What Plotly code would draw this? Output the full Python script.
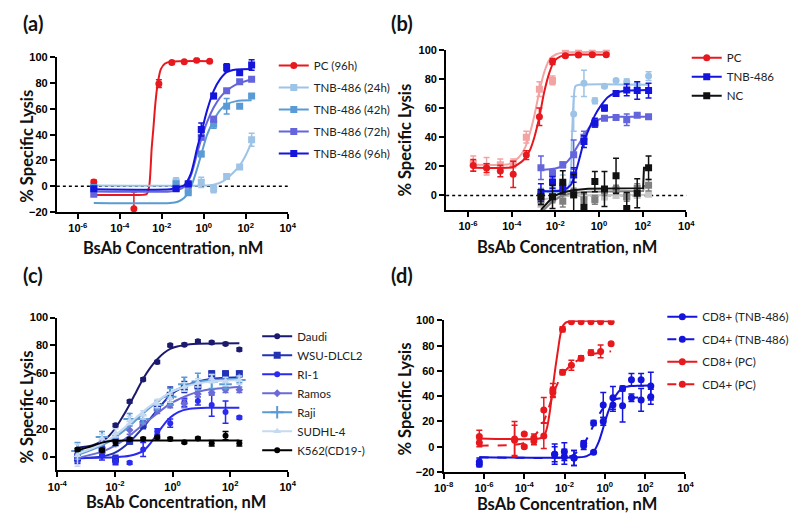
import plotly.graph_objects as go

# ---------------- panel (a) ----------------
A_PC_LOGC = [-5.24, -3.33, -2.14, -1.52, -0.93, -0.34, 0.28]
A_PC = [3.3, -17.5, 79.5, 96.0, 96.5, 97.7, 97.0]
A_PC_ERR = [1.5, 13.0, 3.0, 1.0, 0.5, 0.5, 0.5]
A_PC_FIT_LOGC = [-5.24, -3.2, -2.9, -2.72, -2.6, -2.48, -2.40, -2.33, -2.25, -2.17, -2.05, -1.86, -1.6, 0.28]
A_PC_FIT = [-6.8, -6.8, -6.7, -6.0, 0.0, 30.0, 45.0, 60.0, 73.0, 82.0, 90.6, 95.0, 96.5, 97.0]

A_TNB_LOGC = [-5.24, -1.32, -0.74, -0.12, 0.47, 1.09, 1.71, 2.28]
A_24H = [-1.0, 3.5, -3.0, 3.0, -2.0, 7.5, 15.0, 36.0]
A_24H_ERR = [1, 3, 2, 4, 3, 2, 1, 5]
A_42H = [-1.0, 2.0, -5.0, 25.0, 48.0, 62.0, 62.0, 70.0]
A_42H_ERR = [1, 1, 1.5, 2, 3, 6, 1.5, 1]
A_72H = [-6.3, -1.5, 1.0, 38.0, 52.0, 74.0, 81.0, 83.0]
A_72H_ERR = [1, 1, 1, 2, 2, 1, 1, 1]
A_96H = [-2.0, -2.0, 2.0, 44.0, 70.0, 92.0, 88.0, 94.0]
A_96H_ERR = [1, 1, 1, 5, 2, 3, 2, 4]

A_24H_FIT_LOGC = [-5.24, 0.0, 0.47, 0.93, 1.4, 1.71, 2.0, 2.28]
A_24H_FIT = [0.5, 0.5, 1.2, 4.0, 10.5, 16.0, 24.0, 34.0]
A_TNB_FIT_LOGC = [-5.24, -1.6, -1.24, -0.93, -0.62, -0.31, -0.08, 0.16, 0.47, 0.78, 1.09, 1.55, 2.28]
A_42H_FIT = [-13.0, -13.0, -12.0, -9.0, -1.0, 14.0, 27.0, 40.0, 51.0, 59.0, 63.5, 66.0, 66.6]
A_72H_FIT = [-4.0, -4.0, -3.0, -0.5, 8.0, 26.0, 38.7, 50.0, 61.0, 69.0, 74.0, 79.0, 83.0]
A_96H_FIT = [-2.3, -2.3, -1.0, 0.8, 9.6, 30.0, 44.0, 59.0, 74.0, 83.0, 88.5, 90.6, 91.0]

# ---------------- panel (b) ----------------
B_PC_LOGC = [-5.76, -5.15, -4.52, -3.93, -3.33, -2.73, -2.13, -1.54, -0.94, -0.31, 0.33]
B_PC = [20.6, 18.8, 16.8, 14.5, 27.7, 54.0, 92.0, 96.0, 96.5, 96.6, 96.6]
B_PC_ERR = [4, 3, 4, 9, 3, 6, 2, 1, 1, 1, 1]
B_PC2 = [22.0, 20.0, 21.0, 22.0, 40.0, 73.0, 79.0, 98.0, 98.5, 98.5, 98.5]
B_PC2_ERR = [5, 6, 4, 3, 4, 5, 3, 1, 1, 1, 1]
B_PC_FIT_LOGC = [-5.76, -4.2, -3.93, -3.48, -3.18, -2.96, -2.73, -2.51, -2.28, -2.06, -1.76, -1.24, 0.33]
B_PC_FIT = [19.0, 19.0, 19.5, 24.0, 30.6, 40.0, 54.0, 71.0, 84.0, 92.0, 95.5, 96.6, 96.6]
B_PC2_FIT_LOGC = [-5.76, -4.4, -4.13, -3.68, -3.38, -3.16, -2.93, -2.71, -2.48, -2.26, -1.96, -1.44, 0.33]
B_PC2_FIT = [21.0, 21.0, 21.5, 26.0, 33.0, 43.0, 57.0, 73.0, 86.0, 93.5, 97.0, 98.3, 98.5]

B_TNB_LOGC = [-2.66, -2.13, -1.66, -1.16, -0.69, -0.19, 0.25, 0.78, 1.27, 1.75, 2.27]
B_TNB = [2.0, 9.0, 5.0, 14.0, 37.0, 50.0, 60.0, 70.0, 72.5, 72.0, 72.0]
B_TNB_ERR = [6, 4, 3, 5, 4, 3, 2, 1, 4, 6, 5]
B_TNB_LIGHT = [2.0, 5.0, 8.0, 56.0, 77.0, 65.0, 75.0, 79.0, 78.0, 76.0, 82.0]
B_TNB_LIGHT_ERR = [3, 4, 6, 12, 9, 2, 1, 1, 2, 2, 3]
B_TNB_MID = [19.0, 15.0, 21.0, 28.0, 40.0, 49.0, 53.0, 53.5, 52.0, 55.0, 54.0]
B_TNB_MID_ERR = [8, 3, 2, 10, 4, 2, 1, 1, 4, 1, 1]
B_TNB_FIT_LOGC = [-2.66, -1.66, -1.3, -1.05, -0.85, -0.69, -0.45, -0.19, 0.1, 0.4, 0.78, 1.27, 2.27]
B_TNB_FIT = [3.0, 3.5, 7.0, 17.0, 28.0, 37.0, 46.0, 55.0, 62.0, 67.5, 70.5, 72.0, 72.5]
B_TNB_LIGHT_FIT_LOGC = [-2.66, -1.5, -1.32, -1.24, -1.16, -1.08, -0.9, 2.27]
B_TNB_LIGHT_FIT = [2.5, 3.0, 10.0, 40.0, 66.0, 75.0, 76.0, 76.0]
B_TNB_MID_FIT_LOGC = [-2.66, -2.0, -1.66, -1.3, -1.0, -0.69, -0.4, -0.1, 0.25, 0.78, 2.27]
B_TNB_MID_FIT = [17.5, 18.5, 20.5, 26.0, 33.5, 41.0, 47.5, 51.5, 53.3, 54.0, 54.0]

B_NC = [-1.0, -1.0, 9.0, 0.4, -8.0, 9.5, 4.4, 13.5, -9.0, 1.5, 19.0]
B_NC_ERR = [5, 8, 8, 14, 10, 7, 12, 12, 11, 10, 8]
B_NC_GRAY = [-3.0, -2.0, -4.0, 2.0, -3.0, -3.0, 3.0, 4.0, -1.0, 5.0, 7.0]
B_NC_GRAY_ERR = [4, 3, 4, 3, 4, 3, 3, 3, 3, 3, 4]
B_NC_LIGHT = [-6.0, -2.0, 1.0, 0.0, -1.0, -2.0, -1.0, 0.0, -1.0, 0.0, 1.0]
B_NC_LIGHT_ERR = [2, 2, 2, 2, 2, 2, 2, 2, 2, 2, 2]
B_NC_FIT_LOGC = [-2.66, -2.3, -2.0, -1.66, -1.2, -0.5, 2.02, 2.06, 2.27]
B_NC_FIT = [-10.0, -4.0, 0.0, 2.0, 3.5, 4.5, 5.0, 19.0, 19.0]
B_NC_GRAY_FIT_LOGC = [-2.66, -2.2, -1.8, -1.3, -0.5, 2.02, 2.06, 2.27]
B_NC_GRAY_FIT = [-12.0, -5.0, -1.0, 1.5, 2.5, 3.0, 6.5, 6.5]
B_NC_LIGHT_FIT_LOGC = [-2.66, -1.5, 2.27]
B_NC_LIGHT_FIT = [-3.0, 0.0, 0.5]

# ---------------- panel (c) ----------------
C_LOGC = [-3.30, -2.45, -1.98, -1.49, -1.02, -0.53, -0.08, 0.41, 0.88, 1.36, 1.84, 2.32]
C_DAUDI = [1.5, 5.0, 22.5, 39.5, 55.5, 68.0, 80.0, 80.5, 83.0, 82.0, 81.0, 77.0]
C_DAUDI_ERR = [2, 2, 1, 1, 1, 1, 1, 1, 1, 1, 1, 1]
C_WSU = [-1.0, 4.5, -2.0, 11.0, 23.0, 36.0, 44.0, 50.0, 51.0, 59.5, 59.5, 59.5]
C_WSU_ERR = [3, 3, 3, 2, 3, 2, 6, 4, 2, 2, 2, 2]
C_RI1 = [-2.0, 0.5, -4.0, -4.5, 5.0, 18.0, 24.0, 39.0, 40.0, 37.0, 32.0, 28.0]
C_RI1_ERR = [3, 3, 2, 1, 5, 2, 3, 3, 3, 8, 8, 1]
C_RAMOS = [0.0, 10.0, 13.0, 19.0, 25.0, 33.0, 37.0, 38.0, 45.0, 46.0, 48.0, 48.0]
C_RAMOS_ERR = [2, 2, 2, 3, 2, 2, 2, 3, 2, 2, 2, 2]
C_RAJI = [4.0, 14.0, 11.0, 27.0, 27.0, 37.0, 43.0, 52.0, 54.0, 54.0, 52.0, 55.0]
C_RAJI_ERR = [6, 4, 3, 4, 3, 3, 6, 5, 6, 5, 3, 2]
C_SUDHL = [1.0, 13.0, 17.0, 26.0, 30.0, 38.0, 42.0, 50.0, 53.0, 56.0, 54.0, 55.0]
C_SUDHL_ERR = [8, 3, 3, 3, 3, 3, 3, 3, 3, 3, 3, 3]
C_K562 = [5.0, 4.5, 10.0, 12.5, 12.6, 13.8, 12.6, 10.3, 12.9, 9.5, 15.0, 9.5]
C_K562_ERR = [1, 1, 2, 1, 1, 1, 1, 1, 1, 2, 3, 2]

C_FIT_LOGC = [-3.30, -2.45, -1.98, -1.49, -1.02, -0.53, -0.08, 0.41, 0.88, 1.36, 2.32]
C_DAUDI_FIT_LOGC = [-3.30, -2.8, -2.45, -2.2, -1.98, -1.75, -1.49, -1.25, -1.02, -0.75, -0.53, -0.3, -0.08, 0.41, 0.88, 2.32]
C_DAUDI_FIT = [6.3, 8.0, 11.0, 15.0, 20.5, 28.0, 37.5, 47.0, 56.0, 64.5, 70.0, 74.5, 77.5, 80.3, 81.2, 81.5]
C_WSU_FIT = [-1.5, 0.0, 3.0, 10.5, 21.0, 33.5, 44.0, 50.5, 54.0, 56.0, 57.0]
C_RAMOS_FIT = [-1.0, 3.5, 8.0, 15.0, 23.0, 31.0, 38.0, 43.0, 46.5, 48.5, 50.0]
C_RAJI_FIT = [1.0, 8.0, 14.0, 22.0, 31.0, 39.5, 46.0, 50.5, 53.5, 55.0, 56.0]
C_SUDHL_FIT = [2.0, 9.0, 15.5, 24.0, 32.5, 40.0, 46.0, 50.0, 52.5, 54.0, 55.0]
C_RI1_FIT_LOGC = [-3.30, -1.98, -1.49, -1.02, -0.75, -0.53, -0.3, -0.08, 0.2, 0.6, 1.2, 2.32]
C_RI1_FIT = [-1.0, -0.5, 0.5, 4.0, 10.0, 16.5, 23.0, 28.0, 32.0, 34.3, 35.0, 35.0]
C_K562_FIT_LOGC = [-3.30, -2.8, -2.45, -2.1, -1.6, 2.32]
C_K562_FIT = [4.5, 7.5, 10.0, 11.3, 11.6, 11.6]

# ---------------- panel (d) ----------------
D_PC_LOGC = [-6.23, -4.48, -4.0, -3.52, -3.03, -2.58, -2.1, -1.66, -1.18, -0.69, -0.21, 0.31]
D_CD8_PC = [8.0, 6.0, 10.0, 4.5, 8.5, 43.0, 93.0, 99.0, 99.0, 99.0, 99.0, 99.0]
D_CD8_PC_ERR = [5, 14, 1, 3, 10, 4, 2, 0.5, 0.5, 0.5, 0.5, 0.5]
D_CD4_PC = [3.0, 5.0, 0.0, 7.0, 29.0, 45.0, 59.0, 64.5, 70.0, 74.5, 75.5, 81.5]
D_CD4_PC_ERR = [3, 12, 1, 3, 10, 5, 2, 4, 2, 2, 5, 1]
D_CD8_PC_FIT_LOGC = [-6.23, -3.2, -3.0, -2.87, -2.71, -2.55, -2.45, -2.35, -2.19, -2.05, -1.85, 0.31]
D_CD8_PC_FIT = [6.5, 6.7, 9.0, 15.0, 30.0, 51.0, 63.0, 74.0, 90.0, 96.5, 99.0, 99.3]
D_CD4_PC_FIT_LOGC = [-6.23, -4.5, -4.0, -3.52, -3.2, -3.03, -2.8, -2.58, -2.35, -2.1, -1.66, -1.18, -0.69, -0.21, 0.31]
D_CD4_PC_FIT = [0.8, 1.5, 3.0, 8.0, 15.0, 20.0, 30.0, 41.0, 50.0, 57.5, 65.0, 70.0, 73.0, 74.5, 75.5]

D_TNB_LOGC = [-6.23, -2.49, -2.01, -1.53, -1.05, -0.56, -0.08, 0.40, 0.88, 1.32, 1.80, 2.28]
D_CD8_TNB = [-12.0, -6.0, -4.0, -9.0, 0.8, -4.5, 20.0, 33.0, 46.0, 53.0, 53.0, 48.0]
D_CD8_TNB_ERR = [3, 8, 7, 6, 3, 1, 3, 5, 2, 5, 5, 11]
D_CD4_TNB = [-14.0, -6.0, -8.0, -9.0, 2.6, 18.8, 33.0, 38.7, 32.5, 38.7, 37.0, 39.5]
D_CD4_TNB_ERR = [2, 6, 6, 6, 2, 2, 10, 9, 13, 3, 9, 6]
D_CD8_TNB_FIT_LOGC = [-6.23, -1.3, -0.9, -0.56, -0.3, -0.08, 0.15, 0.4, 0.65, 0.88, 1.3, 2.28]
D_CD8_TNB_FIT = [-8.5, -8.5, -7.5, -4.0, 4.0, 15.0, 27.0, 36.5, 43.0, 46.5, 48.0, 48.5]
D_CD4_TNB_FIT_LOGC = [-6.23, -2.0, -1.6, -1.3, -1.05, -0.8, -0.56, -0.3, -0.08, 0.2, 0.4, 0.88, 2.28]
D_CD4_TNB_FIT = [-8.5, -8.5, -7.0, -3.0, 2.0, 9.0, 17.0, 25.0, 30.5, 35.0, 37.0, 38.5, 39.0]

# ticks
A_XTICKS = [-6, -4, -2, 0, 2, 4]
B_XTICKS = [-6, -4, -2, 0, 2, 4]
C_XTICKS = [-4, -2, 0, 2, 4]
D_XTICKS = [-8, -6, -4, -2, 0, 2, 4]

RED = '#E8191E'
PINK = '#F4A3A3'
LIGHTBLUE = '#9DC3E6'
MIDBLUE = '#5B9BD5'
PURPLE = '#6464DC'
BLUE = '#1414DC'


def logs(vals):
    return [10 ** v for v in vals]


fig = go.Figure()


def add_series(ax, name, color, symbol, logc, vals, errs, fit_logc, fit_vals,
               legend=None, dash='solid', size=7, shape='spline'):
    xa, ya = ax
    fig.add_trace(go.Scatter(x=logs(fit_logc), y=fit_vals, mode='lines', xaxis=xa, yaxis=ya,
                             line=dict(color=color, width=2, dash=dash, shape=shape, smoothing=0.7),
                             showlegend=False, hoverinfo='skip'))
    if symbol == 'cross-thin':
        marker = dict(symbol=symbol, size=size + 2, line=dict(width=2, color=color))
    else:
        marker = dict(symbol=symbol, size=size, color=color, line=dict(width=0))
    fig.add_trace(go.Scatter(x=logs(logc), y=vals, mode='markers', xaxis=xa, yaxis=ya, marker=marker,
                             error_y=dict(type='data', array=errs, color=color, thickness=1.5, width=3),
                             showlegend=False, name=name))
    if legend:
        fig.add_trace(go.Scatter(x=[None], y=[None], mode='lines+markers', name=name, xaxis=xa, yaxis=ya,
                                 line=dict(color=color, width=2, dash=dash), marker=marker,
                                 legend=legend, legendgroup=name))


AX_A = ('x', 'y')
AX_B = ('x2', 'y2')
AX_C = ('x3', 'y3')
AX_D = ('x4', 'y4')

# (a)
add_series(AX_A, 'PC (96h)', RED, 'circle', A_PC_LOGC, A_PC, A_PC_ERR, A_PC_FIT_LOGC, A_PC_FIT, 'legend')
add_series(AX_A, 'TNB-486 (24h)', LIGHTBLUE, 'square', A_TNB_LOGC, A_24H, A_24H_ERR, A_24H_FIT_LOGC, A_24H_FIT, 'legend')
add_series(AX_A, 'TNB-486 (42h)', MIDBLUE, 'square', A_TNB_LOGC, A_42H, A_42H_ERR, A_TNB_FIT_LOGC, A_42H_FIT, 'legend')
add_series(AX_A, 'TNB-486 (72h)', PURPLE, 'square', A_TNB_LOGC, A_72H, A_72H_ERR, A_TNB_FIT_LOGC, A_72H_FIT, 'legend')
add_series(AX_A, 'TNB-486 (96h)', BLUE, 'square', A_TNB_LOGC, A_96H, A_96H_ERR, A_TNB_FIT_LOGC, A_96H_FIT, 'legend')

# (b)
add_series(AX_B, 'PC rep', PINK, 'square', B_PC_LOGC, B_PC2, B_PC2_ERR, B_PC2_FIT_LOGC, B_PC2_FIT)
add_series(AX_B, 'NC rep2', '#C8C8C8', 'square', B_TNB_LOGC, B_NC_LIGHT, B_NC_LIGHT_ERR,
           B_NC_LIGHT_FIT_LOGC, B_NC_LIGHT_FIT, shape='linear')
add_series(AX_B, 'NC rep1', '#808080', 'square', B_TNB_LOGC, B_NC_GRAY, B_NC_GRAY_ERR,
           B_NC_GRAY_FIT_LOGC, B_NC_GRAY_FIT, shape='linear')
add_series(AX_B, 'TNB rep1', LIGHTBLUE, 'circle', B_TNB_LOGC, B_TNB_LIGHT, B_TNB_LIGHT_ERR,
           B_TNB_LIGHT_FIT_LOGC, B_TNB_LIGHT_FIT)
add_series(AX_B, 'TNB rep2', PURPLE, 'square', B_TNB_LOGC, B_TNB_MID, B_TNB_MID_ERR,
           B_TNB_MID_FIT_LOGC, B_TNB_MID_FIT)
add_series(AX_B, 'PC', RED, 'circle', B_PC_LOGC, B_PC, B_PC_ERR, B_PC_FIT_LOGC, B_PC_FIT, 'legend2')
add_series(AX_B, 'TNB-486', BLUE, 'square', B_TNB_LOGC, B_TNB, B_TNB_ERR, B_TNB_FIT_LOGC, B_TNB_FIT, 'legend2')
add_series(AX_B, 'NC', '#111111', 'square', B_TNB_LOGC, B_NC, B_NC_ERR, B_NC_FIT_LOGC, B_NC_FIT,
           'legend2', shape='linear')

# (c)
add_series(AX_C, 'Daudi', '#1B1A6E', 'circle', C_LOGC, C_DAUDI, C_DAUDI_ERR, C_DAUDI_FIT_LOGC, C_DAUDI_FIT, 'legend3', size=6)
add_series(AX_C, 'WSU-DLCL2', '#2231B5', 'square', C_LOGC, C_WSU, C_WSU_ERR, C_FIT_LOGC, C_WSU_FIT, 'legend3', size=7)
add_series(AX_C, 'RI-1', '#2A2AF0', 'circle', C_LOGC, C_RI1, C_RI1_ERR, C_RI1_FIT_LOGC, C_RI1_FIT, 'legend3', size=6)
add_series(AX_C, 'Ramos', '#6B6BD8', 'diamond', C_LOGC, C_RAMOS, C_RAMOS_ERR, C_FIT_LOGC, C_RAMOS_FIT, 'legend3', size=6)
add_series(AX_C, 'Raji', MIDBLUE, 'cross-thin', C_LOGC, C_RAJI, C_RAJI_ERR, C_FIT_LOGC, C_RAJI_FIT, 'legend3', size=7)
add_series(AX_C, 'SUDHL-4', '#C5D9F1', 'triangle-up', C_LOGC, C_SUDHL, C_SUDHL_ERR, C_FIT_LOGC, C_SUDHL_FIT, 'legend3', size=7)
add_series(AX_C, 'K562(CD19-)', '#000000', 'circle', C_LOGC, C_K562, C_K562_ERR, C_K562_FIT_LOGC, C_K562_FIT, 'legend3', size=6)

# (d)
add_series(AX_D, 'CD8+ (TNB-486)', BLUE, 'circle', D_TNB_LOGC, D_CD8_TNB, D_CD8_TNB_ERR,
           D_CD8_TNB_FIT_LOGC, D_CD8_TNB_FIT, 'legend4')
add_series(AX_D, 'CD4+ (TNB-486)', BLUE, 'circle', D_TNB_LOGC, D_CD4_TNB, D_CD4_TNB_ERR,
           D_CD4_TNB_FIT_LOGC, D_CD4_TNB_FIT, 'legend4', dash='dash')
add_series(AX_D, 'CD8+ (PC)', RED, 'circle', D_PC_LOGC, D_CD8_PC, D_CD8_PC_ERR,
           D_CD8_PC_FIT_LOGC, D_CD8_PC_FIT, 'legend4')
add_series(AX_D, 'CD4+ (PC)', RED, 'circle', D_PC_LOGC, D_CD4_PC, D_CD4_PC_ERR,
           D_CD4_PC_FIT_LOGC, D_CD4_PC_FIT, 'legend4', dash='dash')

tickfont = dict(family='Liberation Sans, Arial', size=11, color='black', weight='bold')
axis_common = dict(showline=True, linecolor='black', linewidth=2, ticks='outside', ticklen=5,
                   tickwidth=2, tickcolor='black', showgrid=False, zeroline=False, tickfont=tickfont)


def xaxis(dom, anchor, rng, ticks):
    return dict(axis_common, type='log', domain=dom, anchor=anchor, range=rng,
                tickvals=[10 ** t for t in ticks], ticktext=['10<sup>%d</sup>' % t for t in ticks])


def yaxis(dom, anchor, rng, ticks):
    return dict(axis_common, domain=dom, anchor=anchor, range=rng, tickvals=ticks)


W, H = 800, 520
OFF = 8  # the page body margin shifts the figure by 8px


def px(x):
    return (x - OFF) / W


def py(y):
    return 1 - (y - OFF) / H


legend_common = dict(xanchor='left', yanchor='top', bgcolor='rgba(0,0,0,0)', itemwidth=30,
                     font=dict(family='Lato', size=11.5, color='#222222'))

fig.update_layout(
    width=W, height=H, margin=dict(l=0, r=0, t=0, b=0),
    paper_bgcolor='white', plot_bgcolor='white',
    xaxis=xaxis([px(47.8), px(284.3)], 'y', [-7, 4], A_XTICKS),
    yaxis=yaxis([py(210.7), py(52.3)], 'x', [-20, 100], [-20, 0, 20, 40, 60, 80, 100]),
    xaxis2=xaxis([px(446.6), px(692.6)], 'y2', [-7, 4], B_XTICKS),
    yaxis2=yaxis([py(208.6), py(44.7)], 'x2', [-10, 100], [0, 20, 40, 60, 80, 100]),
    xaxis3=xaxis([px(48.3), px(284.3)], 'y3', [-4, 4], C_XTICKS),
    yaxis3=yaxis([py(475.2), py(318.7)], 'x3', [-10, 100], [0, 20, 40, 60, 80, 100]),
    xaxis4=xaxis([px(444), px(691.7)], 'y4', [-8, 4], D_XTICKS),
    yaxis4=yaxis([py(476.7), py(321.7)], 'x4', [-20, 100], [-20, 0, 20, 40, 60, 80, 100]),
    legend=dict(legend_common, x=px(270), y=py(46), tracegroupgap=3),
    legend2=dict(legend_common, x=px(693), y=py(38), tracegroupgap=0),
    legend3=dict(legend_common, x=px(253), y=py(323), tracegroupgap=0),
    legend4=dict(legend_common, x=px(668), y=py(303), tracegroupgap=3.5),
    showlegend=True,
)

# dotted zero reference lines in (a) and (b)
for xr, yr in [('x domain', 'y'), ('x2 domain', 'y2')]:
    fig.add_shape(type='line', xref=xr, yref=yr, x0=0, x1=1, y0=0, y1=0, layer='below',
                  line=dict(color='black', width=1.5, dash='dot'))

title_font = dict(family='Lato', size=16.5, color='#111111', weight='bold')
label_font = dict(family='Lato', size=20, color='#111111', weight='bold')
for text, x, y in [('(a)', 23, 17), ('(b)', 401, 17), ('(c)', 23, 275), ('(d)', 401, 275)]:
    fig.add_annotation(text=text, x=px(x), y=py(y), xref='paper', yref='paper', showarrow=False,
                       font=label_font, xanchor='center', yanchor='middle')
for x, y in [(167, 248), (570, 247), (170, 508), (570, 510)]:
    fig.add_annotation(text='BsAb Concentration, nM', x=px(x), y=py(y), xref='paper', yref='paper',
                       showarrow=False, font=title_font, xanchor='center', yanchor='middle')
for x, y in [(17, 143), (404, 137), (17, 410), (404, 402)]:
    fig.add_annotation(text='% Specific Lysis', x=px(x), y=py(y), xref='paper', yref='paper',
                       showarrow=False, font=title_font, textangle=-90, xanchor='center', yanchor='middle')

fig.write_html("out.html")
